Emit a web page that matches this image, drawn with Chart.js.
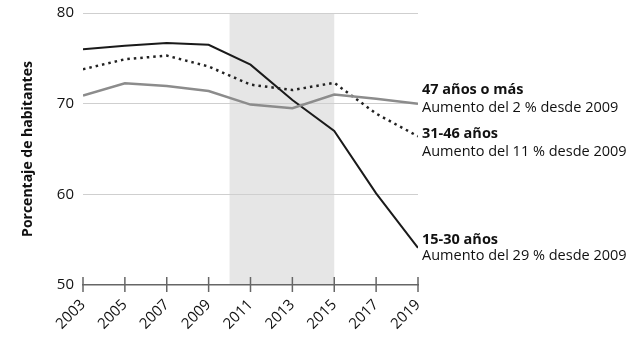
<!DOCTYPE html>
<html><head><meta charset="utf-8">
<script src="https://cdn.jsdelivr.net/npm/chart.js@4/dist/chart.umd.min.js"></script>
<style>html,body{margin:0;padding:0;background:#fff}#wrap{width:644px;height:351px}</style>
</head><body><div id="wrap"><canvas id="c" width="644" height="351"></canvas></div>
<script>
const years = [2003, 2005, 2007, 2009, 2011, 2013, 2015, 2017, 2019];
const young = [76.0, 76.4, 76.7, 76.5, 74.3, 70.4, 67.0, 60.1, 54.1];
const middle = [73.8, 74.9, 75.3, 74.1, 72.1, 71.5, 72.3, 68.9, 66.4];
const older = [70.9, 72.25, 71.95, 71.4, 69.9, 69.5, 71.0, 70.55, 70.0];
const yTicks = [50, 60, 70, 80];
const xTicks = years;
const shadeRange = [2010, 2015];
const seriesNames = ['15-30 años', '31-46 años', '47 años o más'];
const seriesNotes = ['Aumento del 29 % desde 2009', 'Aumento del 11 % desde 2009', 'Aumento del 2 % desde 2009'];

const FONT = "'Open Sans', 'Noto Sans', sans-serif";
const pts = arr => years.map((y, i) => ({x: y, y: arr[i]}));

const shadePlugin = {
  id: 'shade',
  beforeDraw(chart) {
    const {ctx, chartArea, scales: {x}} = chart;
    const x0 = x.getPixelForValue(shadeRange[0]);
    const x1 = x.getPixelForValue(shadeRange[1]);
    ctx.save();
    ctx.fillStyle = '#e6e6e6';
    ctx.fillRect(x0, chartArea.top, x1 - x0, chartArea.bottom - chartArea.top);
    ctx.restore();
  },
  afterDraw(chart) {
    const {ctx, chartArea, scales: {x, y}} = chart;
    ctx.save();
    ctx.strokeStyle = '#666';
    ctx.lineWidth = 1.5;
    xTicks.forEach(t => {
      const px = x.getPixelForValue(t);
      ctx.beginPath();
      ctx.moveTo(px, chartArea.bottom - 8);
      ctx.lineTo(px, chartArea.bottom + 7);
      ctx.stroke();
    });
    const lastIdx = years.length - 1;
    const tx = chartArea.right + 4;
    const ends = [young[lastIdx], middle[lastIdx], older[lastIdx]];
    const offs = [[-8, 8], [-2, 16], [-14, 4.5]];
    ctx.fillStyle = '#111';
    ctx.textBaseline = 'middle';
    ctx.textAlign = 'left';
    for (let i = 0; i < 3; i++) {
      const py = y.getPixelForValue(ends[i]);
      ctx.font = "bold 14.5px " + FONT;
      ctx.fillText(seriesNames[i], tx, py + offs[i][0]);
      ctx.font = "14.5px " + FONT;
      ctx.fillText(seriesNotes[i], tx, py + offs[i][1]);
    }
    ctx.restore();
  }
};

new Chart(document.getElementById('c'), {
  type: 'line',
  data: {
    datasets: [
      {label: seriesNames[2], data: pts(older), borderColor: '#8c8c8c', borderWidth: 2.5, pointRadius: 0, tension: 0},
      {label: seriesNames[1], data: pts(middle), borderColor: '#222', borderWidth: 2.5, borderDash: [2.5, 4], pointRadius: 0, tension: 0},
      {label: seriesNames[0], data: pts(young), borderColor: '#1a1a1a', borderWidth: 2, pointRadius: 0, tension: 0}
    ]
  },
  options: {
    responsive: false,
    animation: false,
    layout: {padding: {left: 0, right: 226, top: 13, bottom: 0}},
    plugins: {legend: {display: false}, tooltip: {enabled: false}},
    scales: {
      x: {
        type: 'linear', min: 2003, max: 2019,
        afterBuildTicks: s => { s.ticks = xTicks.map(v => ({value: v})); },
        afterFit: s => { s.height = 66; s.paddingLeft = 0; s.paddingRight = 0; },
        grid: {display: true, drawOnChartArea: false, drawTicks: true, tickLength: 8, color: 'rgba(0,0,0,0)'},
        border: {display: true, color: '#666', width: 1.5},
        ticks: {color: '#111', font: {family: FONT, size: 15}, minRotation: 45, maxRotation: 45, padding: 3, callback: v => String(v)}
      },
      y: {
        min: 50, max: 80,
        afterBuildTicks: s => { s.ticks = yTicks.map(v => ({value: v})); },
        afterFit: s => { s.width = 83; s.paddingTop = 0; s.paddingBottom = 0; },
        grid: {color: c => c.tick.value === 50 ? 'rgba(0,0,0,0)' : '#cfcfcf', lineWidth: 1, drawTicks: false},
        border: {display: false},
        ticks: {color: '#111', font: {family: FONT, size: 15}, padding: 9},
        title: {display: true, text: 'Porcentaje de habitantes', color: '#111', font: {family: FONT, size: 14, weight: 'bold'}, padding: {top: 20, bottom: 0}}
      }
    }
  },
  plugins: [shadePlugin]
});
</script></body></html>
